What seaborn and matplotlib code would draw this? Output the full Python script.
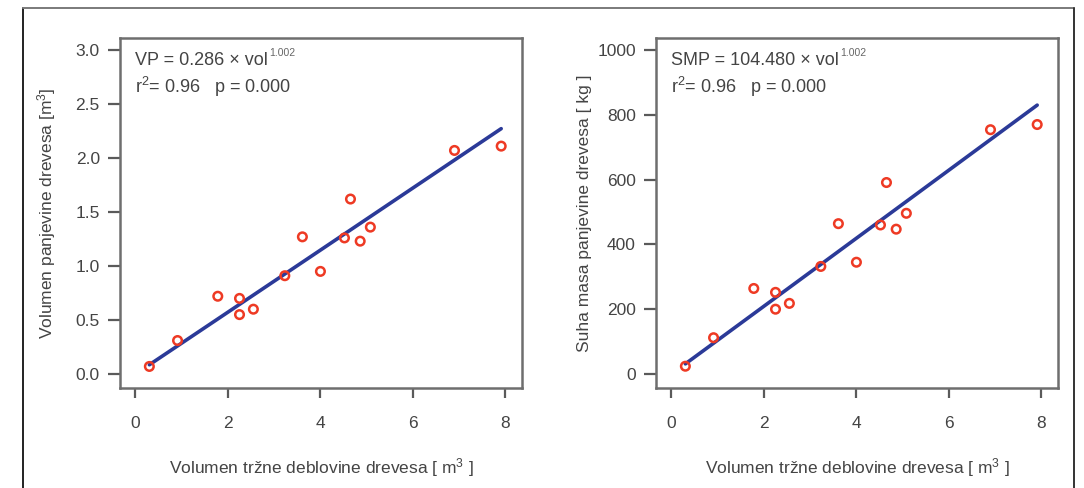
import numpy as np
import pandas as pd
import matplotlib
matplotlib.use("Agg")
import matplotlib.pyplot as plt
from matplotlib.lines import Line2D
import seaborn as sns

# ---- data ----
vol = [0.30, 0.91, 1.78, 2.25, 2.25, 2.55, 3.23, 3.61, 4.00, 4.52, 4.65, 4.86, 5.08, 6.90, 7.91]
vp = [0.07, 0.31, 0.72, 0.70, 0.55, 0.60, 0.91, 1.27, 0.95, 1.26, 1.62, 1.23, 1.36, 2.07, 2.11]
smp = [24, 112, 264, 252, 200, 218, 332, 464, 345, 460, 591, 447, 496, 754, 770]

vp_coef, vp_exp = 0.286, 1.002
smp_coef, smp_exp = 104.480, 1.002

x_ticks = [0, 2, 4, 6, 8]
vp_ticks = [0.0, 0.5, 1.0, 1.5, 2.0, 2.5, 3.0]
vp_ticklabels = ["0.0", "0.5", "1.0", "1.5", "2.0", "2.5", "3.0"]
smp_ticks = [0, 200, 400, 600, 800, 1000]
smp_ticklabels = ["0", "200", "400", "600", "800", "1000"]

xlabel = "Volumen tržne deblovine drevesa [ m$^3$ ]"
vp_ylabel = "Volumen panjevine drevesa [m$^3$]"
smp_ylabel = "Suha masa panjevine drevesa [ kg ]"
vp_eq = "VP = 0.286 × vol"
smp_eq = "SMP = 104.480 × vol"
eq_sup = "1.002"
stats_txt = "r$^2$= 0.96   p = 0.000"

# ---- style ----
sns.set_style("ticks")
plt.rcParams["font.family"] = ["Liberation Sans", "DejaVu Sans"]
plt.rcParams["mathtext.fontset"] = "custom"
plt.rcParams["mathtext.rm"] = "Liberation Sans"
plt.rcParams["mathtext.it"] = "Liberation Sans:italic"
plt.rcParams["mathtext.bf"] = "Liberation Sans:bold"

RED = "#ee3a24"
BLUE = "#2b3a98"
GRAY = "#5a5a5a"
TXT = "#444444"
FS_LAB = 12.5
FS_TICK = 12.5
FS_ANN = 13

df = pd.DataFrame({"vol": vol, "vp": vp, "smp": smp})
xs = np.sort(np.array(vol))
fit = pd.DataFrame({"vol": xs,
                    "vp": vp_coef * xs ** vp_exp,
                    "smp": smp_coef * xs ** smp_exp})

fig = plt.figure(figsize=(10.84, 4.88), dpi=100)
W, H = 1084, 488

def add_ax(x0, x1, y0, y1):
    return fig.add_axes([x0 / W, 1 - y1 / H, (x1 - x0) / W, (y1 - y0) / H])

axL = add_ax(120, 522, 38, 388)
axR = add_ax(656, 1058, 38, 388)

panels = [
    (axL, "vp", vp_ylabel, vp_eq, vp_ticks, vp_ticklabels, (3.0 + 12 / 108.0, -14 / 108.0), -0.183),
    (axR, "smp", smp_ylabel, smp_eq, smp_ticks, smp_ticklabels, (1000 + 12 / 0.324, -14 / 0.324), -0.177),
]

for ax, col, ylab, eq, yt, ytl, yl, ylx in panels:
    sns.lineplot(data=fit, x="vol", y=col, ax=ax, color=BLUE, linewidth=2.6, zorder=2)
    sns.scatterplot(data=df, x="vol", y=col, ax=ax, marker="o", s=38,
                    facecolor="none", edgecolor=RED, linewidth=1.8, zorder=3)
    ax.set_xlim(-0.335, 8.36)
    ax.set_ylim(yl[1], yl[0])
    ax.set_xticks(x_ticks)
    ax.set_xticklabels([str(t) for t in x_ticks])
    ax.set_yticks(yt)
    ax.set_yticklabels(ytl)
    ax.tick_params(axis="both", direction="out", length=8.5, width=1.6,
                   color=GRAY, labelcolor=TXT, labelsize=FS_TICK)
    ax.tick_params(axis="y", pad=6)
    ax.tick_params(axis="x", pad=13, length=7.5)
    for sp in ax.spines.values():
        sp.set_visible(True)
        sp.set_color("#6e6e6e")
        sp.set_linewidth(1.8)
    ax.set_xlabel(xlabel, fontsize=FS_LAB, color=TXT, va="center")
    ax.set_ylabel(ylab, fontsize=FS_LAB, color=TXT, va="center")
    ax.xaxis.set_label_coords(0.5, -0.226)
    ax.yaxis.set_label_coords(ylx, 0.5)
    t1 = ax.text(0.037, 0.935, eq, transform=ax.transAxes, fontsize=FS_ANN, color=TXT,
                 ha="left", va="center")
    ax.annotate(eq_sup, xy=(1.0, 0.93), xycoords=t1, xytext=(1, 0), textcoords="offset points",
                fontsize=7.5, color="#666666", ha="left", va="center")
    ax.text(0.037, 0.86, stats_txt, transform=ax.transAxes, fontsize=FS_ANN, color=TXT,
            ha="left", va="center")

# outer frame
fig.add_artist(Line2D([22.5 / W, 22.5 / W], [0, 1 - 7.5 / H], transform=fig.transFigure,
                      color="#222222", linewidth=1.4))
fig.add_artist(Line2D([22.5 / W, 1073.5 / W], [1 - 7.5 / H, 1 - 7.5 / H], transform=fig.transFigure,
                      color="#7a7a7a", linewidth=1.4))
fig.add_artist(Line2D([1073.5 / W, 1073.5 / W], [0, 1 - 7.5 / H], transform=fig.transFigure,
                      color="#333333", linewidth=1.4))

fig.savefig("out.png", dpi=100)
